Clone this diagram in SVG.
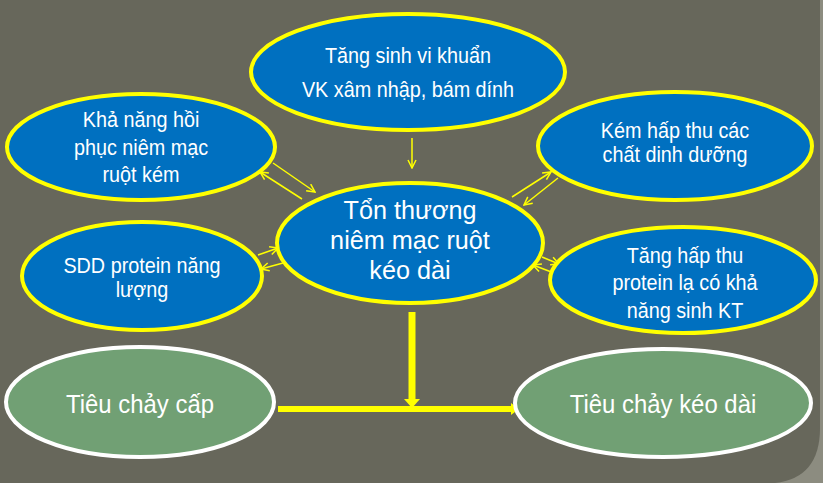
<svg xmlns="http://www.w3.org/2000/svg" width="823" height="483" viewBox="0 0 823 483">
  <defs>
    <style>
      .n { fill: #0070C0; stroke: #FFFF00; stroke-width: 4; }
      .g { fill: #71A074; stroke: #FFFFFF; stroke-width: 4; }
      .t { font-family: "Liberation Sans", Arial, sans-serif; fill: #FFFFFF; text-anchor: middle; }
      .s { font-size: 22px; }
      .m { font-size: 26px; }
      .b { font-size: 26px; }
      .c { stroke: #FFFF00; stroke-width: 1.5; fill: none; marker-end: url(#ah); }
      .big { stroke: #FFFF00; fill: none; }
    </style>
    <marker id="ah" markerUnits="userSpaceOnUse" markerWidth="10" markerHeight="10" viewBox="0 0 10 10" refX="9" refY="5" orient="auto">
      <path d="M1,1 L9,5 L1,9" fill="none" stroke="#FFFF00" stroke-width="1.5"/>
    </marker>
  </defs>

  <rect x="0" y="0" width="823" height="483" fill="#8C8C80"/>
  <path d="M0,0 H820 V428 Q820,478 775,483 H0 Z" fill="#67675B"/>

  <g id="connectors">
    <line class="c" x1="412" y1="138" x2="412" y2="168"/>
    <line class="c" x1="273" y1="163" x2="315" y2="192"/>
    <line class="c" x1="302" y1="199" x2="260" y2="172"/>
    <line class="c" x1="258" y1="255" x2="278" y2="248"/>
    <line class="c" x1="283" y1="263" x2="261" y2="269"/>
    <line class="c" x1="512" y1="197" x2="551" y2="172"/>
    <line class="c" x1="558" y1="178" x2="524" y2="205"/>
    <line class="c" x1="542" y1="257" x2="559" y2="264"/>
    <line class="c" x1="554" y1="273" x2="533" y2="265"/>
    <line class="big" x1="412" y1="312" x2="412" y2="400" stroke-width="7"/>
    <polygon points="404,399 420,399 412,408" fill="#FFFF00"/>
    <line class="big" x1="278" y1="409" x2="512" y2="409" stroke-width="6"/>
    <polygon points="511,403 511,415 519,409" fill="#FFFF00"/>
  </g>

  <g id="node-top">
    <ellipse class="n" cx="408" cy="72" rx="157" ry="58"/>
    <text class="t s" transform="translate(408,0) scale(0.9,1)"><tspan x="0" y="63">Tăng sinh vi khuẩn</tspan><tspan x="0" y="97">VK xâm nhập, bám dính</tspan></text>
  </g>

  <g id="node-left-top">
    <ellipse class="n" cx="141" cy="147" rx="134" ry="53"/>
    <text class="t s" transform="translate(141,0) scale(0.9,1)"><tspan x="0" y="127">Khả năng hồi</tspan><tspan x="0" y="155">phục niêm mạc</tspan><tspan x="0" y="182">ruột kém</tspan></text>
  </g>

  <g id="node-right-top">
    <ellipse class="n" cx="675" cy="146" rx="137" ry="54"/>
    <text class="t s" transform="translate(675,0) scale(0.9,1)"><tspan x="0" y="138">Kém hấp thu các</tspan><tspan x="0" y="162">chất dinh dưỡng</tspan></text>
  </g>

  <g id="node-left-bottom">
    <ellipse class="n" cx="142" cy="276" rx="120" ry="54"/>
    <text class="t s" transform="translate(142,0) scale(0.9,1)"><tspan x="0" y="273">SDD protein năng</tspan><tspan x="0" y="297">lượng</tspan></text>
  </g>

  <g id="node-right-bottom">
    <ellipse class="n" cx="683" cy="280" rx="133" ry="53"/>
    <text class="t s" transform="translate(685,0) scale(0.9,1)"><tspan x="0" y="263">Tăng hấp thu</tspan><tspan x="0" y="290">protein lạ có khả</tspan><tspan x="0" y="318">năng sinh KT</tspan></text>
  </g>

  <g id="node-center">
    <ellipse class="n" cx="410" cy="243" rx="133" ry="60"/>
    <text class="t m" transform="translate(410,0) scale(0.97,1)"><tspan x="0" y="219">Tổn thương</tspan><tspan x="0" y="249">niêm mạc ruột</tspan><tspan x="0" y="279">kéo dài</tspan></text>
  </g>

  <g id="node-acute">
    <ellipse class="g" cx="140" cy="402" rx="134" ry="55"/>
    <text class="t b" transform="translate(140,413) scale(0.92,1)" x="0" y="0">Tiêu chảy cấp</text>
  </g>

  <g id="node-prolonged">
    <ellipse class="g" cx="663" cy="403" rx="148" ry="54"/>
    <text class="t b" transform="translate(663,413) scale(0.92,1)" x="0" y="0">Tiêu chảy kéo dài</text>
  </g>
</svg>
